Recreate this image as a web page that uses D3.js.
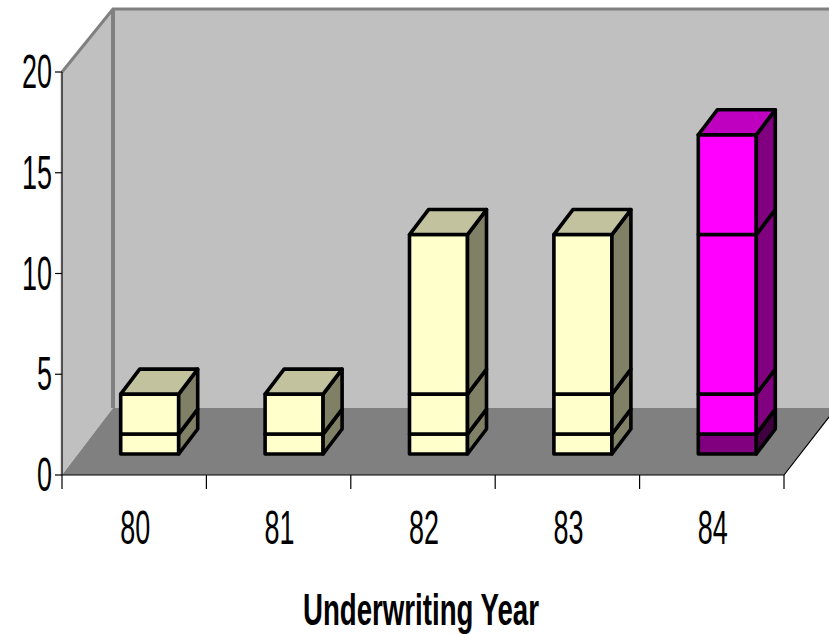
<!DOCTYPE html>
<html>
<head>
<meta charset="utf-8">
<style>
html,body{margin:0;padding:0;background:#fff}
svg{display:block}
text{font-family:"Liberation Sans",Arial,sans-serif;fill:#000}
</style>
<script src="https://cdn.jsdelivr.net/npm/d3@7"></script>
</head>
<body>
<svg id="chart" width="829" height="634"></svg>
<script>
// Underwriting years and the stacked layers of each column
const years = ["80", "81", "82", "83", "84"];
const layerA = [1, 1, 1, 1, 1];
const layerB = [2, 2, 2, 2, 2];
const layerC = [0, 0, 8, 8, 8];
const layerD = [0, 0, 0, 0, 5];
const yTicks = [0, 5, 10, 15, 20];
const xTitle = "Underwriting Year";

// Face colours: [front, top, side]
const paleFaces = ["#ffffcc", "#c2c29e", "#808066"];
const magentaFaces = ["#ff00ff", "#c000c0", "#800080"];
const darkFaces = ["#800080", "#800080", "#400040"];

const W = 829, H = 634;
const left = 62, right = 784, y0 = 475, y20 = 72;
const floorDepth = {x: 51, y: 67};
const wallTop = 9;
const barDepth = {x: 19, y: 25};

const svg = d3.select("#chart");
const x = d3.scaleBand().domain(years).range([left, right]);
const y = d3.scaleLinear().domain([0, 20]).range([y0, y20]);
// Columns stand further back on the floor, so they get their own plane
const barY = d3.scaleLinear().domain([0, 20]).range([454, 55]);
const barWidth = 58, barShift = 15.5;

const poly = pts => pts.map(p => p.join(",")).join(" ");

// Back wall, side wall, floor
svg.append("rect").attr("x", left + floorDepth.x).attr("y", wallTop)
  .attr("width", W - left - floorDepth.x).attr("height", y0 - floorDepth.y - wallTop)
  .attr("fill", "#c0c0c0");
svg.append("polygon")
  .attr("points", poly([[left, y20], [left + floorDepth.x, wallTop], [left + floorDepth.x, y0 - floorDepth.y], [left, y0]]))
  .attr("fill", "#c0c0c0");
svg.append("polygon")
  .attr("points", poly([[left, y0], [right, y0], [right + floorDepth.x + 1, y0 - floorDepth.y], [left + floorDepth.x, y0 - floorDepth.y]]))
  .attr("fill", "#808080");

// Grey wall edges
svg.append("path")
  .attr("d", d3.line()([[left, y20], [left + floorDepth.x, wallTop], [W, wallTop]]))
  .attr("fill", "none").attr("stroke", "#808080").attr("stroke-width", 3);
svg.append("line")
  .attr("x1", left + floorDepth.x).attr("x2", left + floorDepth.x)
  .attr("y1", wallTop).attr("y2", y0 - floorDepth.y)
  .attr("stroke", "#808080").attr("stroke-width", 4);

// Axes
svg.append("line").attr("x1", left - 1).attr("x2", left - 1).attr("y1", y20).attr("y2", y0)
  .attr("stroke", "#c0c0c0").attr("stroke-width", 1);
const frame = svg.append("g").attr("stroke", "#000").attr("stroke-width", 1.2).attr("fill", "none");
frame.append("path").attr("d", d3.line()([[left, y20], [left, y0], [right, y0], [right + floorDepth.x + 1, y0 - floorDepth.y]]));
frame.selectAll(".ytick").data(yTicks).join("line").attr("class", "ytick")
  .attr("x1", left - 7).attr("x2", left).attr("y1", d => y(d)).attr("y2", d => y(d));
frame.selectAll(".xtick").data([...years.map(d => x(d)), right]).join("line").attr("class", "xtick")
  .attr("x1", d => d).attr("x2", d => d).attr("y1", y0).attr("y2", y0 + 14);

// Condensed tick labels
const narrow = (sel, px, py) => sel.attr("transform", `translate(${px},${py}) scale(0.55,1)`);
svg.selectAll(".ylabel").data(yTicks).join("text").attr("class", "ylabel")
  .attr("text-anchor", "end").attr("font-size", 49)
  .text(d => d).each(function (d) { narrow(d3.select(this), 52, y(d) + 16); });
svg.selectAll(".xlabel").data(years).join("text").attr("class", "xlabel")
  .attr("text-anchor", "middle").attr("font-size", 49)
  .text(d => d).each(function (d) { narrow(d3.select(this), x(d) + x.bandwidth() / 2 + 1, 544); });

svg.append("text").attr("x", 303).attr("y", 625)
  .attr("font-size", 45).attr("font-weight", 700)
  .attr("textLength", 236).attr("lengthAdjust", "spacingAndGlyphs")
  .text(xTitle);

// Stacked 3D columns, drawn from the floor upwards
const layers = [layerA, layerB, layerC, layerD];
years.forEach((year, i) => {
  const g = svg.append("g").attr("stroke", "#000").attr("stroke-width", 3.6).attr("stroke-linejoin", "round");
  const x0 = x(year) + x.bandwidth() / 2 + barShift - barWidth / 2;
  const x1 = x0 + barWidth;
  let total = 0;
  const highlighted = i === years.length - 1;
  const segments = [];
  layers.forEach((layer, j) => {
    if (layer[i] > 0) {
      const faces = highlighted ? (j === 0 ? darkFaces : magentaFaces) : paleFaces;
      segments.push({from: total, to: total + layer[i], faces});
      total += layer[i];
    }
  });
  segments.forEach((s, k) => {
    const yb = barY(s.from), yt = barY(s.to);
    g.append("polygon").attr("points", poly([[x0, yb], [x1, yb], [x1, yt], [x0, yt]])).attr("fill", s.faces[0]);
    g.append("polygon").attr("points", poly([[x1, yb], [x1 + barDepth.x, yb - barDepth.y], [x1 + barDepth.x, yt - barDepth.y], [x1, yt]])).attr("fill", s.faces[2]);
    if (k === segments.length - 1) {
      const topFill = highlighted ? magentaFaces[1] : paleFaces[1];
      g.append("polygon").attr("points", poly([[x0, yt], [x1, yt], [x1 + barDepth.x, yt - barDepth.y], [x0 + barDepth.x, yt - barDepth.y]])).attr("fill", topFill);
    }
  });
});
</script>
</body>
</html>
